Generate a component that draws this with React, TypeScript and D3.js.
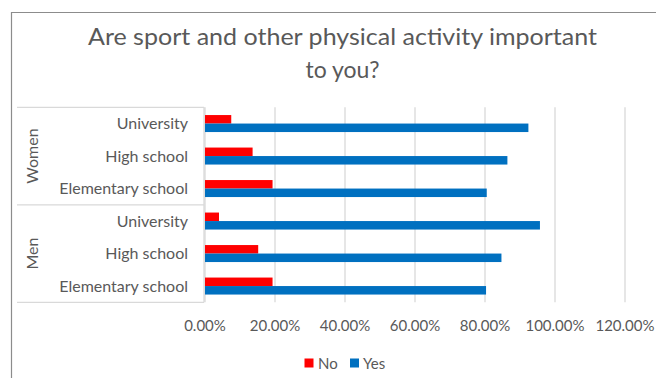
import React from "react";
import * as d3 from "d3";

const groups = ["Women", "Men"];
const categories = [
  "Women|University",
  "Women|High school",
  "Women|Elementary school",
  "Men|University",
  "Men|High school",
  "Men|Elementary school",
];
const series = ["No", "Yes"];
const noValues = [0.075, 0.136, 0.193, 0.04, 0.152, 0.193];
const yesValues = [0.924, 0.864, 0.805, 0.957, 0.847, 0.803];
const ticks = [0, 0.2, 0.4, 0.6, 0.8, 1.0, 1.2];
const colors = { No: "#FF0000", Yes: "#0070C0" };

const FONT = "Lato, 'Open Sans', sans-serif";
const TXT = "#595959";

export default function App() {
  const W = 656, H = 378;
  const x = d3.scaleLinear().domain([0, 1.2]).range([205, 625]);
  const y = d3.scaleBand().domain(categories).range([107.3, 302.3]).paddingInner(0.477).paddingOuter(0.2385);
  const ys = d3.scaleBand().domain(series).range([0, y.bandwidth()]);
  const top = 107.3, bottom = 302.3;
  const values: Record<string, number[]> = { No: noValues, Yes: yesValues };

  return (
    <svg width={W} height={H} style={{ position: "absolute", left: 0, top: 0, background: "#fff" }}>
      <rect x={0} y={0} width={W} height={H} fill="#fff" />
      <path d={`M11.5,${H} L11.5,12.5 L${W},12.5`} fill="none" stroke="#8c8c8c" strokeWidth={1.2} />
      <text x={342.5} y={45} textAnchor="middle" fontFamily={FONT} fontSize={23} fill={TXT} textLength={509} lengthAdjust="spacingAndGlyphs">
        Are sport and other physical activity important
      </text>
      <text x={342.5} y={78} textAnchor="middle" fontFamily={FONT} fontSize={23} fill={TXT}>
        to you?
      </text>
      {ticks.map((t) => (
        <line key={t} x1={x(t)} x2={x(t)} y1={top} y2={bottom} stroke="#d9d9d9" strokeWidth={1.3} />
      ))}
      <line x1={17} x2={204} y1={top} y2={top} stroke="#d9d9d9" strokeWidth={1.3} />
      <line x1={17} x2={204} y1={(top + bottom) / 2} y2={(top + bottom) / 2} stroke="#d9d9d9" strokeWidth={1.3} />
      <line x1={17} x2={204} y1={bottom} y2={bottom} stroke="#d9d9d9" strokeWidth={1.3} />
      <line x1={204} x2={204} y1={top} y2={bottom} stroke="#d9d9d9" strokeWidth={1.3} />
      {categories.map((c, i) =>
        series.map((s) => (
          <rect
            key={c + s}
            x={x(0)}
            y={(y(c) as number) + (ys(s) as number)}
            width={x(values[s][i]) - x(0)}
            height={ys.bandwidth()}
            fill={(colors as any)[s]}
          />
        ))
      )}
      {categories.map((c) => (
        <text key={c} x={188} y={(y(c) as number) + y.bandwidth() / 2 - 1} textAnchor="end" dominantBaseline="central" fontFamily={FONT} fontSize={16} fill={TXT}>
          {c.split("|")[1]}
        </text>
      ))}
      {groups.map((g, gi) => {
        const cy = top + (gi + 0.5) * ((bottom - top) / 2);
        return (
          <text key={g} transform={`translate(31,${cy}) rotate(-90)`} textAnchor="middle" dominantBaseline="central" fontFamily={FONT} fontSize={16} fill={TXT}>
            {g}
          </text>
        );
      })}
      {ticks.map((t) => (
        <text key={t} x={x(t)} y={325} textAnchor="middle" dominantBaseline="central" fontFamily={FONT} fontSize={15} fill={TXT}>
          {(t * 100).toFixed(2) + "%"}
        </text>
      ))}
      <rect x={304.5} y={358.5} width={9} height={9} fill={colors.No} />
      <text x={318} y={363} dominantBaseline="central" fontFamily={FONT} fontSize={15} fill={TXT}>No</text>
      <rect x={350} y={358.5} width={9} height={9} fill={colors.Yes} />
      <text x={363} y={363} dominantBaseline="central" fontFamily={FONT} fontSize={15} fill={TXT}>Yes</text>
    </svg>
  );
}
